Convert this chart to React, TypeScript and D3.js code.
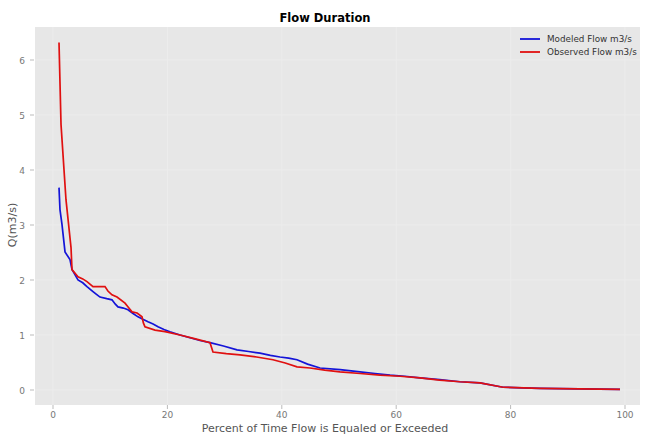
import React from "react";
import * as d3 from "d3";

const xTicks = [0, 20, 40, 60, 80, 100];
const yTicks = [0, 1, 2, 3, 4, 5, 6];

const modeledX = [1.05, 1.22, 1.57, 2.1, 2.97, 3.32, 4.37, 5.2, 5.94, 6.99, 7.6, 8.22, 9.4, 10.31, 10.9, 11.36, 12.3, 13.11, 14.0, 14.86, 15.8, 16.61, 17.5, 18.36, 19.4, 20.45, 22.2, 23.95, 25.7, 27.45, 29.8, 32.17, 34.2, 36.19, 38.0, 39.69, 41.2, 42.66, 44.5, 46.68, 50.2, 53.67, 56.3, 58.92, 61.5, 64.16, 67.6, 71.15, 74.65, 78.67, 81.9, 85.14, 92.0, 99.13];
const modeledY = [3.68, 3.28, 3.01, 2.51, 2.37, 2.19, 2.0, 1.95, 1.88, 1.79, 1.74, 1.69, 1.66, 1.64, 1.56, 1.51, 1.49, 1.46, 1.39, 1.33, 1.28, 1.24, 1.2, 1.15, 1.1, 1.06, 1.0, 0.95, 0.9, 0.86, 0.8, 0.73, 0.7, 0.67, 0.63, 0.6, 0.58, 0.55, 0.47, 0.4, 0.37, 0.33, 0.3, 0.27, 0.25, 0.22, 0.19, 0.15, 0.13, 0.05, 0.04, 0.03, 0.02, 0.01];

const observedX = [1.05, 1.4, 2.27, 3.15, 3.32, 4.37, 5.2, 5.94, 6.99, 9.09, 9.6, 10.31, 11.19, 12.59, 13.2, 13.81, 14.7, 15.56, 15.8, 16.08, 17.83, 19.58, 22.2, 24.9, 27.45, 27.97, 30.3, 32.69, 35.6, 38.46, 40.6, 42.66, 44.93, 47.5, 50.17, 53.7, 57.17, 60.7, 64.16, 67.6, 71.15, 74.65, 78.67, 85.14, 92.0, 99.13];
const observedY = [6.32, 4.83, 3.46, 2.59, 2.19, 2.06, 2.02, 1.97, 1.88, 1.88, 1.8, 1.73, 1.69, 1.58, 1.5, 1.42, 1.4, 1.33, 1.22, 1.15, 1.09, 1.06, 1.0, 0.93, 0.86, 0.69, 0.66, 0.64, 0.6, 0.55, 0.49, 0.42, 0.4, 0.36, 0.33, 0.3, 0.27, 0.25, 0.22, 0.18, 0.15, 0.13, 0.05, 0.03, 0.02, 0.01];

const seriesNames = ["Modeled Flow m3/s", "Observed Flow m3/s"];
const seriesColors = ["#1414d8", "#e01010"];

const W = 650;
const H = 437;
const panel = { left: 35, right: 640, top: 27, bottom: 405 };

export default function App() {
  const x = d3.scaleLinear().domain([0, 100]).range([53, 625]);
  const y = d3.scaleLinear().domain([0, 6]).range([390, 60]);
  const line = d3
    .line<[number, number]>()
    .x((d) => x(d[0]))
    .y((d) => y(d[1]));
  const modeled: [number, number][] = modeledX.map((v, i) => [v, modeledY[i]]);
  const observed: [number, number][] = observedX.map((v, i) => [v, observedY[i]]);
  const font = "DejaVu Sans, sans-serif";

  return (
    <svg
      width={W}
      height={H}
      style={{ position: "absolute", left: 0, top: 0, background: "#fff" }}
      fontFamily={font}
    >
      <rect x={0} y={0} width={W} height={H} fill="#ffffff" />
      <rect
        x={panel.left}
        y={panel.top}
        width={panel.right - panel.left}
        height={panel.bottom - panel.top}
        fill="#e7e7e7"
      />
      {xTicks.map((t) => (
        <line
          key={"gx" + t}
          x1={x(t)}
          x2={x(t)}
          y1={panel.top}
          y2={panel.bottom}
          stroke="#ececec"
          strokeWidth={1}
        />
      ))}
      {yTicks.map((t) => (
        <line
          key={"gy" + t}
          x1={panel.left}
          x2={panel.right}
          y1={y(t)}
          y2={y(t)}
          stroke="#ececec"
          strokeWidth={1}
        />
      ))}
      {yTicks.map((t) => (
        <g key={"ty" + t}>
          <line x1={30} x2={34} y1={y(t)} y2={y(t)} stroke="#bbb" />
          <text x={25} y={y(t) + 3.5} fontSize={9} fill="#777" textAnchor="end">
            {t}
          </text>
        </g>
      ))}
      {xTicks.map((t) => (
        <g key={"tx" + t}>
          <line x1={x(t)} x2={x(t)} y1={405} y2={409} stroke="#bbb" />
          <text x={x(t)} y={418} fontSize={9} fill="#777" textAnchor="middle">
            {t}
          </text>
        </g>
      ))}
      <path d={line(modeled) || ""} fill="none" stroke={seriesColors[0]} strokeWidth={1.7} />
      <path d={line(observed) || ""} fill="none" stroke={seriesColors[1]} strokeWidth={1.7} />
      <text x={325} y={22} fontSize={11.5} fontWeight="bold" textAnchor="middle" fill="#000">
        Flow Duration
      </text>
      <text x={325} y={432} fontSize={11} textAnchor="middle" fill="#555">
        Percent of Time Flow is Equaled or Exceeded
      </text>
      <text
        transform={`translate(16,${y(3)}) rotate(-90)`}
        fontSize={11}
        textAnchor="middle"
        fill="#555"
      >
        Q(m3/s)
      </text>
      {seriesNames.map((n, i) => (
        <g key={n}>
          <line
            x1={520}
            x2={540}
            y1={39 + i * 13}
            y2={39 + i * 13}
            stroke={seriesColors[i]}
            strokeWidth={1.8}
          />
          <text x={547} y={42 + i * 13} fontSize={8.8} fill="#333">
            {n}
          </text>
        </g>
      ))}
    </svg>
  );
}
